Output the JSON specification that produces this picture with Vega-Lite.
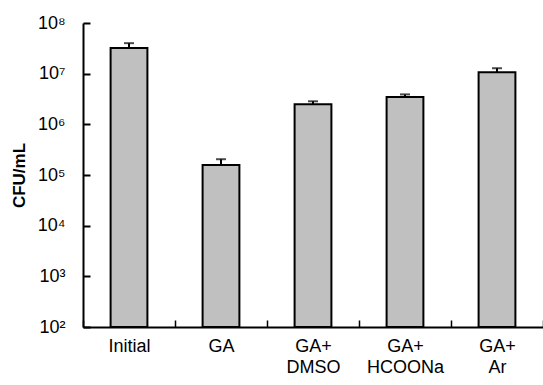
{
  "$schema": "https://vega.github.io/schema/vega-lite/v6.json",
  "width": 460,
  "height": 304,
  "autosize": {"type": "none"},
  "padding": {"left": 83, "top": 23, "right": 0, "bottom": 58},
  "background": "white",
  "config": {
    "view": {"stroke": null},
    "font": "Liberation Sans",
    "axis": {"domainColor": "black", "tickColor": "black", "labelColor": "black", "titleColor": "black", "grid": false, "labelFont": "Liberation Sans", "titleFont": "Liberation Sans"}
  },
  "data": {
    "values": [
      {"group": "Initial", "cfu": 32000000, "err": 40000000, "base": 100},
      {"group": "GA", "cfu": 158000, "err": 205000, "base": 100},
      {"group": "GA+ DMSO", "cfu": 2500000, "err": 2850000, "base": 100},
      {"group": "GA+ HCOONa", "cfu": 3450000, "err": 3900000, "base": 100},
      {"group": "GA+ Ar", "cfu": 10700000, "err": 12800000, "base": 100}
    ]
  },
  "encoding": {
    "x": {
      "field": "group",
      "type": "nominal",
      "sort": null,
      "scale": {"paddingInner": 0, "paddingOuter": 0},
      "axis": {
        "title": null,
        "labelAngle": 0,
        "labelFontSize": 18,
        "labelPadding": 17,
        "labelLineHeight": 21,
        "labelBaseline": "top",
        "labelExpr": "split(datum.label, ' ')",
        "tickBand": "extent",
        "tickSize": -7,
        "tickWidth": 1.5,
        "domainWidth": 2
      }
    }
  },
  "layer": [
    {
      "mark": {"type": "bar", "fill": "#c0c0c0", "stroke": "black", "strokeWidth": 2, "width": {"band": 0.4}},
      "encoding": {
        "y": {
          "field": "cfu",
          "type": "quantitative",
          "scale": {"type": "log", "domain": [100, 100000000]},
          "axis": {
            "title": "CFU/mL",
            "titleFontSize": 17,
            "titleFontWeight": "bold",
            "titlePadding": 9,
            "values": [100, 1000, 10000, 100000, 1000000, 10000000, 100000000],
            "labelExpr": "'10' + ['⁰','¹','²','³','⁴','⁵','⁶','⁷','⁸'][round(log(datum.value)/LN10)]",
            "labelFontSize": 18,
            "labelPadding": 25,
            "tickSize": -7,
            "tickWidth": 2,
            "domainWidth": 2
          }
        },
        "y2": {"field": "base"}
      }
    },
    {
      "mark": {"type": "rule", "stroke": "black", "strokeWidth": 2},
      "encoding": {
        "y": {"field": "cfu", "type": "quantitative"},
        "y2": {"field": "err"}
      }
    },
    {
      "mark": {"type": "tick", "color": "black", "thickness": 2, "size": 10},
      "encoding": {
        "y": {"field": "err", "type": "quantitative"}
      }
    }
  ]
}
